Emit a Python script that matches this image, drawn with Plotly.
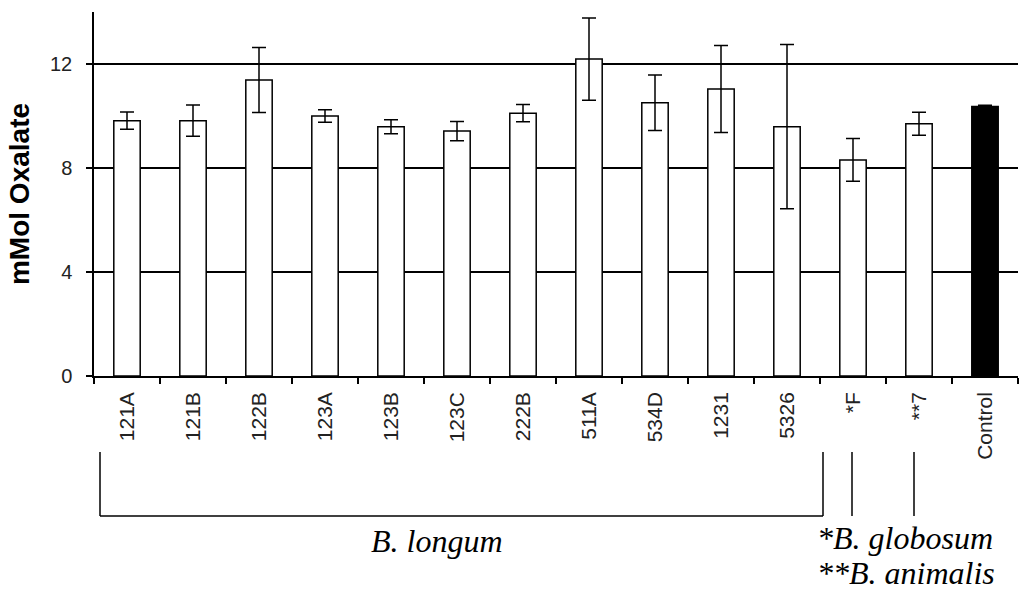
import plotly.graph_objects as go

categories = ["121A", "121B", "122B", "123A", "123B", "123C", "222B", "511A",
              "534D", "1231", "5326", "*F", "**7", "Control"]
oxalate = [9.82, 9.82, 11.38, 10.0, 9.59, 9.42, 10.11, 12.19,
           10.51, 11.04, 9.59, 8.31, 9.70, 10.37]
oxalate_err = [0.33, 0.60, 1.25, 0.24, 0.27, 0.37, 0.33, 1.58,
               1.07, 1.67, 3.16, 0.82, 0.44, 0.04]
bar_colors = ["white"] * 13 + ["black"]
y_ticks = [0, 4, 8, 12]

W, H = 1019, 599
L, R, T, B = 94, 1, 12, 223
PW, PH = W - L - R, H - T - B


def px(x):
    return (x - L) / PW


def py(y):
    return (H - B - y) / PH


fig = go.Figure()
fig.add_trace(go.Bar(
    x=categories, y=oxalate, width=0.4,
    marker=dict(color=bar_colors, line=dict(color="black", width=1.5)),
    error_y=dict(type="data", array=oxalate_err, color="black",
                 thickness=1.5, width=7),
    showlegend=False,
))

line = dict(color="black", width=1.5)
shapes = [
    dict(type="line", xref="paper", yref="paper", x0=px(100), x1=px(100), y0=py(452), y1=py(516), line=line),
    dict(type="line", xref="paper", yref="paper", x0=px(100), x1=px(823), y0=py(516), y1=py(516), line=line),
    dict(type="line", xref="paper", yref="paper", x0=px(823), x1=px(823), y0=py(452), y1=py(516), line=line),
    dict(type="line", xref="paper", yref="paper", x0=px(852), x1=px(852), y0=py(452), y1=py(516), line=line),
    dict(type="line", xref="paper", yref="paper", x0=px(914), x1=px(914), y0=py(452), y1=py(516), line=line),
]

serif = dict(family="Liberation Serif", size=32, color="black")
annotations = [
    dict(text="<i>B. longum</i>", xref="paper", yref="paper", x=px(437), y=py(541),
         xanchor="center", yanchor="middle", showarrow=False, font=serif),
    dict(text="<i>*B. globosum</i>", xref="paper", yref="paper", x=px(815), y=py(538),
         xanchor="left", yanchor="middle", showarrow=False, font=serif),
    dict(text="<i>**B. animalis</i>", xref="paper", yref="paper", x=px(815), y=py(573),
         xanchor="left", yanchor="middle", showarrow=False, font=serif),
]

fig.update_layout(
    width=W, height=H,
    margin=dict(l=L, r=R, t=T, b=B, autoexpand=False),
    paper_bgcolor="white", plot_bgcolor="white",
    shapes=shapes, annotations=annotations,
    xaxis=dict(
        range=[-0.5, 13.5], showline=True, linecolor="black", linewidth=1.5,
        ticks="outside", tickson="boundaries", ticklen=6, tickwidth=1.5, tickcolor="black",
        ticklabelstandoff=6,
        tickangle=-90, tickfont=dict(family="Liberation Sans", size=21, color="#222"),
        showgrid=False, zeroline=False, automargin=False,
    ),
    yaxis=dict(
        range=[0, 14], tickvals=y_ticks, showline=True, linecolor="black", linewidth=1.5,
        ticks="outside", ticklen=6, tickwidth=1.5, tickcolor="black",
        ticklabelstandoff=10,
        tickfont=dict(family="Liberation Sans", size=20, color="#222"),
        showgrid=True, gridcolor="black", gridwidth=1.5, zeroline=False,
        title=dict(text="<b>mMol Oxalate</b>", standoff=12,
                   font=dict(family="Liberation Sans", size=28, color="black")),
        automargin=False,
    ),
)

fig.write_html("out.html", config={"displayModeBar": False},
               post_script="document.body.style.margin='0';document.body.style.overflow='hidden';")
